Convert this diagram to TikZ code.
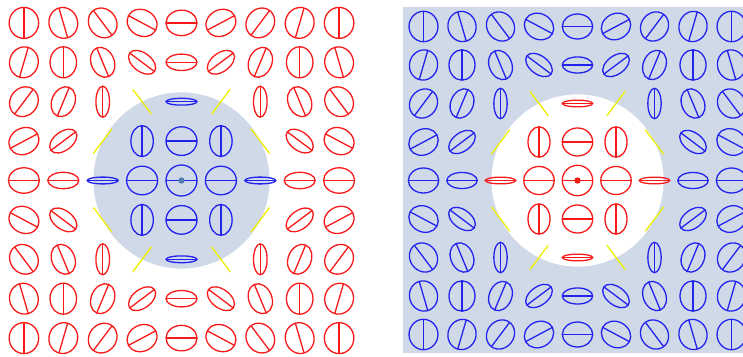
\documentclass[tikz,border=0pt]{standalone}
\definecolor{hazeblue}{RGB}{207,217,232}
\definecolor{lineblue}{RGB}{35,35,240}
\definecolor{linered}{RGB}{250,25,25}
\definecolor{lineyellow}{RGB}{238,238,0}
\definecolor{dotblue}{RGB}{85,125,180}
\tikzset{pollin/.style={line width=1.3pt}}

% Polarization ellipse field on a 9x9 grid.
% #1,#2: centre; #3: grid pitch; #4: semi-major axis;
% #5: colour inside the L-circle; #6: colour outside; #7: colour of the C-point dot
\newcommand{\polfield}[7]{%
  \foreach \i in {-4,...,4}{%
    \foreach \j in {-4,...,4}{%
      \pgfmathtruncatemacro{\rsq}{\i*\i+\j*\j}%
      \pgfmathsetmacro{\qq}{\rsq*\rsq/25}%
      \pgfmathsetmacro{\minor}{#4*abs(1-\qq)/(1+\qq)}%
      \ifnum\rsq=0 \def\ang{0}\else\pgfmathsetmacro{\ang}{-2*atan2(\j,\i)}\fi
      \ifnum\rsq<5 \def\col{#5}\else\def\col{#6}\fi
      \begin{scope}[shift={(#1+#3*\i,#2+#3*\j)},rotate=\ang]
        \ifnum\rsq=5
          \draw[pollin,color=lineyellow] (-#4,0) -- (#4,0);
        \else
          \draw[pollin,color=\col] (0,0) ellipse [x radius=#4,y radius=\minor];
          \draw[pollin,color=\col] (-#4,0) -- (#4,0);
        \fi
      \end{scope}
    }}%
  \fill[#7] (#1,#2) circle[radius=3.2];
}

\begin{document}
\begin{tikzpicture}[x=1pt,y=1pt]
  \useasboundingbox (0,0) rectangle (743,356);

  % left panel: white ground, shaded disc bounded by the L-line
  \fill[hazeblue] (181.5,175.5) circle[radius=88.1];
  \polfield{181.5}{175.5}{39.4}{15.5}{lineblue}{linered}{dotblue}

  % right panel: shaded ground, white disc
  \fill[hazeblue] (403,3) rectangle (746,349);
  \fill[white] (577.5,175.5) circle[radius=86.1];
  \polfield{577.5}{175.5}{38.5}{15.2}{linered}{lineblue}{linered}
\end{tikzpicture}
\end{document}
